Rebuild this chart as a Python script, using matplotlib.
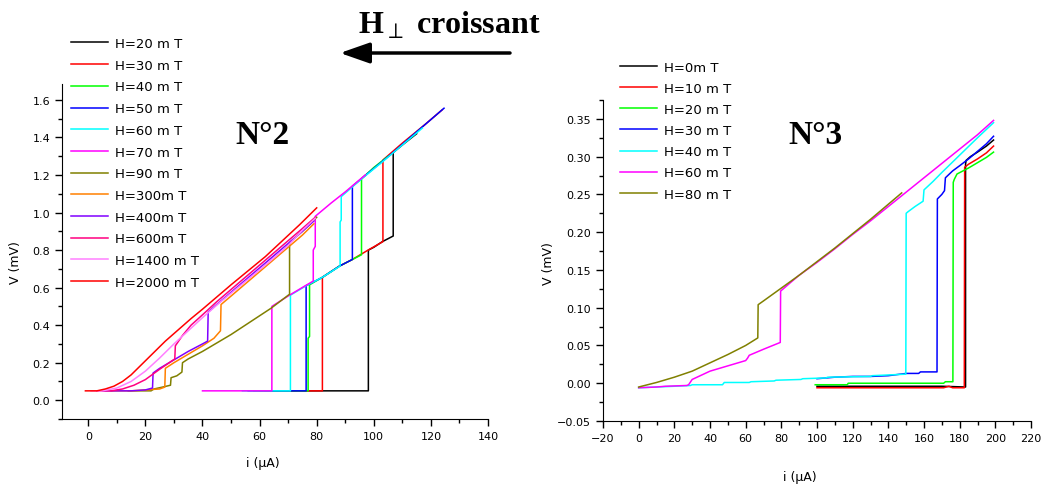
import matplotlib
matplotlib.use("Agg")
import matplotlib.pyplot as plt
from matplotlib.ticker import MultipleLocator

plt.rcParams['font.family'] = ['DejaVu Sans']
plt.rcParams['mathtext.fontset'] = 'dejavuserif'

# ---------------- sample N°2 : i (uA), V (mV) ----------------
labels_n2 = ["H=20 m T", "H=30 m T", "H=40 m T", "H=50 m T", "H=60 m T", "H=70 m T",
             "H=90 m T", "H=300m T", "H=400m T", "H=600m T", "H=1400 m T", "H=2000 m T"]
colors_n2 = ["#000000", "#ff0000", "#00ff00", "#0000ff", "#00ffff", "#ff00ff",
             "#808000", "#ff8000", "#8000ff", "#ff0080", "#ff80ff", "#ff0000"]

i_20 = [62, 98.1, 98.1, 100, 103, 106.8, 106.8, 110, 115]
v_20 = [0.05, 0.05, 0.80, 0.815, 0.845, 0.875, 1.32, 1.36, 1.42]
i_30 = [60, 82, 82, 88, 92.5, 98, 103.2, 103.2, 110, 118, 124]
v_30 = [0.05, 0.05, 0.655, 0.715, 0.75, 0.80, 0.845, 1.28, 1.37, 1.47, 1.548]
i_40 = [58, 77, 77, 77.5, 77.5, 82, 88, 92.5, 95.7, 95.7, 100, 105]
v_40 = [0.05, 0.05, 0.33, 0.34, 0.615, 0.655, 0.715, 0.75, 0.775, 1.18, 1.24, 1.30]
i_50 = [56, 76.3, 76.3, 82, 88, 92.5, 92.5, 98, 106, 115, 124.6]
v_50 = [0.05, 0.05, 0.61, 0.655, 0.715, 0.75, 1.14, 1.21, 1.31, 1.43, 1.556]
i_60 = [54, 70.8, 70.8, 76.3, 82, 88.2, 88.2, 88.6, 88.6, 95, 103, 110, 117]
v_60 = [0.05, 0.05, 0.56, 0.61, 0.655, 0.715, 0.95, 0.96, 1.085, 1.17, 1.27, 1.36, 1.45]
i_70 = [40, 64.3, 64.3, 70.5, 76, 78.8, 78.8, 79.5, 79.5, 85, 90, 97]
v_70 = [0.05, 0.05, 0.50, 0.56, 0.61, 0.635, 0.80, 0.82, 0.98, 1.05, 1.11, 1.20]
i_90 = [14, 22, 23, 26, 28.8, 29, 31, 32.8, 33, 35, 40, 45, 50, 55, 60, 64, 70.5, 70.5, 72, 75, 80]
v_90 = [0.05, 0.05, 0.06, 0.07, 0.08, 0.12, 0.13, 0.15, 0.20, 0.22, 0.26, 0.305, 0.35, 0.40,
        0.45, 0.49, 0.565, 0.84, 0.86, 0.90, 0.975]
i_300 = [8, 15, 20, 25, 26.8, 27, 30, 35, 40, 44, 46.3, 46.5, 50, 55, 60, 65, 70, 75, 79]
v_300 = [0.05, 0.05, 0.055, 0.06, 0.07, 0.17, 0.20, 0.245, 0.29, 0.33, 0.37, 0.51, 0.555,
         0.62, 0.685, 0.75, 0.815, 0.88, 0.94]
i_400 = [5, 15, 20, 22.5, 22.7, 25, 30, 35, 40, 41.8, 42, 45, 50, 55, 60, 65, 70, 75, 79]
v_400 = [0.05, 0.05, 0.055, 0.065, 0.145, 0.17, 0.215, 0.26, 0.30, 0.315, 0.47, 0.51, 0.575,
         0.64, 0.705, 0.77, 0.835, 0.90, 0.955]
i_600 = [3, 8, 12, 16, 20, 25, 30.3, 30.5, 33, 36, 40, 45, 50, 55, 60, 65, 70, 75, 79.5]
v_600 = [0.05, 0.05, 0.06, 0.08, 0.11, 0.165, 0.22, 0.29, 0.345, 0.40, 0.455, 0.525, 0.59,
         0.655, 0.72, 0.785, 0.85, 0.915, 0.975]
i_1400 = [1, 5, 10, 15, 20, 25, 30, 35, 40, 46, 52, 58, 64, 70, 75, 79.5]
v_1400 = [0.05, 0.05, 0.065, 0.10, 0.155, 0.225, 0.30, 0.37, 0.44, 0.52, 0.595, 0.67, 0.745,
          0.825, 0.905, 0.97]
i_2000 = [-1, 3, 6, 9, 12, 15, 18, 21, 24, 27, 30, 33, 36, 40, 45, 50, 56, 62, 68, 74, 80]
v_2000 = [0.05, 0.05, 0.06, 0.075, 0.10, 0.135, 0.18, 0.225, 0.27, 0.315, 0.355, 0.395, 0.435,
          0.485, 0.55, 0.615, 0.69, 0.765, 0.85, 0.935, 1.025]

curves_n2 = [(i_20, v_20), (i_30, v_30), (i_40, v_40), (i_50, v_50), (i_60, v_60), (i_70, v_70),
             (i_90, v_90), (i_300, v_300), (i_400, v_400), (i_600, v_600), (i_1400, v_1400),
             (i_2000, v_2000)]

# ---------------- sample N°3 ----------------
labels_n3 = ["H=0m T", "H=10 m T", "H=20 m T", "H=30 m T", "H=40 m T", "H=60 m T", "H=80 m T"]
colors_n3 = ["#000000", "#ff0000", "#00ff00", "#0000ff", "#00ffff", "#ff00ff", "#808000"]

j_0 = [100, 140, 170, 183.3, 183.3, 183.6, 186, 190, 195, 199]
u_0 = [-0.004, -0.004, -0.004, -0.005, 0.29, 0.295, 0.30, 0.306, 0.314, 0.322]
j_10 = [100, 130, 160, 171, 174, 176, 182.6, 182.8, 185, 190, 195, 199]
u_10 = [-0.006, -0.006, -0.006, -0.006, -0.004, -0.006, -0.006, 0.286, 0.29, 0.297, 0.305, 0.314]
j_20 = [99, 117, 117.5, 171, 172, 176.2, 176.4, 177, 178.5, 185, 190, 195, 199]
u_20 = [-0.002, -0.002, 0.0, 0.0, 0.002, 0.002, 0.266, 0.27, 0.277, 0.285, 0.292, 0.299, 0.306]
j_30 = [100, 110, 120, 130, 140, 150, 157, 158, 167.3, 167.5, 170, 171.5, 172, 176, 180, 185,
        190, 195, 199]
u_30 = [0.006, 0.008, 0.009, 0.009, 0.010, 0.013, 0.013, 0.015, 0.015, 0.244, 0.25, 0.255,
        0.272, 0.281, 0.288, 0.297, 0.307, 0.317, 0.327]
j_40 = [0, 10, 20, 29, 30, 47, 48, 62, 63, 76, 77, 91, 92, 105, 106, 130, 131, 149.8, 150, 151,
        155, 159.5, 160, 165, 170, 180, 190, 199]
u_40 = [-0.006, -0.005, -0.004, -0.003, -0.002, -0.002, 0.001, 0.001, 0.002, 0.003, 0.004,
        0.005, 0.006, 0.007, 0.008, 0.009, 0.010, 0.012, 0.225, 0.227, 0.234, 0.241, 0.256,
        0.267, 0.279, 0.302, 0.325, 0.345]
j_60 = [0, 10, 15, 27, 28, 30, 40, 50, 60, 61, 62, 70, 79.4, 79.6, 85, 90, 100, 110, 120, 130,
        140, 150, 160, 170, 180, 190, 199]
u_60 = [-0.006, -0.005, -0.004, -0.003, -0.002, 0.005, 0.016, 0.023, 0.030, 0.033, 0.037,
        0.045, 0.054, 0.122, 0.133, 0.143, 0.16, 0.178, 0.197, 0.215, 0.234, 0.253, 0.272,
        0.291, 0.31, 0.329, 0.348]
j_80 = [0, 10, 20, 30, 40, 50, 60, 66.8, 67, 70, 80, 90, 100, 110, 120, 130, 140, 147.5]
u_80 = [-0.005, 0.001, 0.008, 0.016, 0.027, 0.038, 0.05, 0.06, 0.104, 0.109, 0.126, 0.143,
        0.161, 0.179, 0.198, 0.217, 0.237, 0.252]

curves_n3 = [(j_0, u_0), (j_10, u_10), (j_20, u_20), (j_30, u_30), (j_40, u_40), (j_60, u_60),
             (j_80, u_80)]

fig = plt.figure(figsize=(10.41, 4.85), dpi=100)
W, H = 1041, 485
ax1 = fig.add_axes([62 / W, 65 / H, 426 / W, 335 / H])
ax2 = fig.add_axes([603 / W, 63 / H, 428 / W, 321 / H])


def style_axes(ax):
    ax.spines['top'].set_visible(False)
    ax.spines['right'].set_visible(False)
    ax.tick_params(which='major', direction='out', length=5, width=1, labelsize=8)
    ax.tick_params(which='minor', direction='out', length=3, width=1)


lines1 = []
for (x, y), c in zip(curves_n2, colors_n2):
    ln, = ax1.plot(x, y, color=c, lw=1.1)
    lines1.append(ln)
ax1.set_xlim(-9.2, 140)
ax1.set_ylim(-0.1, 1.685)
ax1.xaxis.set_major_locator(MultipleLocator(20))
ax1.xaxis.set_minor_locator(MultipleLocator(10))
ax1.yaxis.set_major_locator(MultipleLocator(0.2))
ax1.yaxis.set_minor_locator(MultipleLocator(0.1))
style_axes(ax1)
ax1.set_xlabel("i (µA)", fontsize=9)
ax1.set_ylabel("V (mV)", fontsize=9)
ax1.xaxis.set_label_coords(0.472, -0.11)
ax1.yaxis.set_label_coords(-0.094, 0.47)

lines2 = []
for (x, y), c in zip(curves_n3, colors_n3):
    ln, = ax2.plot(x, y, color=c, lw=1.1)
    lines2.append(ln)
ax2.set_xlim(-20, 220)
ax2.set_ylim(-0.05, 0.375)
ax2.xaxis.set_major_locator(MultipleLocator(20))
ax2.xaxis.set_minor_locator(MultipleLocator(10))
ax2.yaxis.set_major_locator(MultipleLocator(0.05))
ax2.yaxis.set_minor_locator(MultipleLocator(0.025))
style_axes(ax2)
ax2.set_xlabel("i (µA)", fontsize=9)
ax2.set_ylabel("V (mV)", fontsize=9)
ax2.xaxis.set_label_coords(0.46, -0.153)
ax2.yaxis.set_label_coords(-0.112, 0.495)

# legends
fig.legend(lines1, labels_n2, loc='upper left', bbox_to_anchor=(71 / W, 1 - 38 / H),
           frameon=False, fontsize=9.5, handlelength=2.8, handletextpad=0.5,
           labelspacing=0.66, borderpad=0, borderaxespad=0)
fig.legend(lines2, labels_n3, loc='upper left', bbox_to_anchor=(620 / W, 1 - 61.5 / H),
           frameon=False, fontsize=9.5, handlelength=2.8, handletextpad=0.5,
           labelspacing=0.62, borderpad=0, borderaxespad=0)

# annotations
fig.text(262 / W, 1 - 135 / H, "N°2", ha='center', va='center', fontsize=24,
         family='Liberation Serif', weight='bold')
fig.text(815 / W, 1 - 135 / H, "N°3", ha='center', va='center', fontsize=24,
         family='Liberation Serif', weight='bold')
fig.text(449 / W, 1 - 25 / H, r"H$_\perp$ croissant", ha='center', va='center', fontsize=23,
         family='Liberation Serif', weight='bold')
fig.add_artist(matplotlib.patches.FancyArrowPatch(
    (510 / W, 1 - 54 / H), (340 / W, 1 - 54 / H), transform=fig.transFigure,
    arrowstyle='-|>,head_length=1.0,head_width=0.35', mutation_scale=18,
    lw=2.5, color='black', shrinkA=0, shrinkB=0))

fig.savefig("out.png", dpi=100)
